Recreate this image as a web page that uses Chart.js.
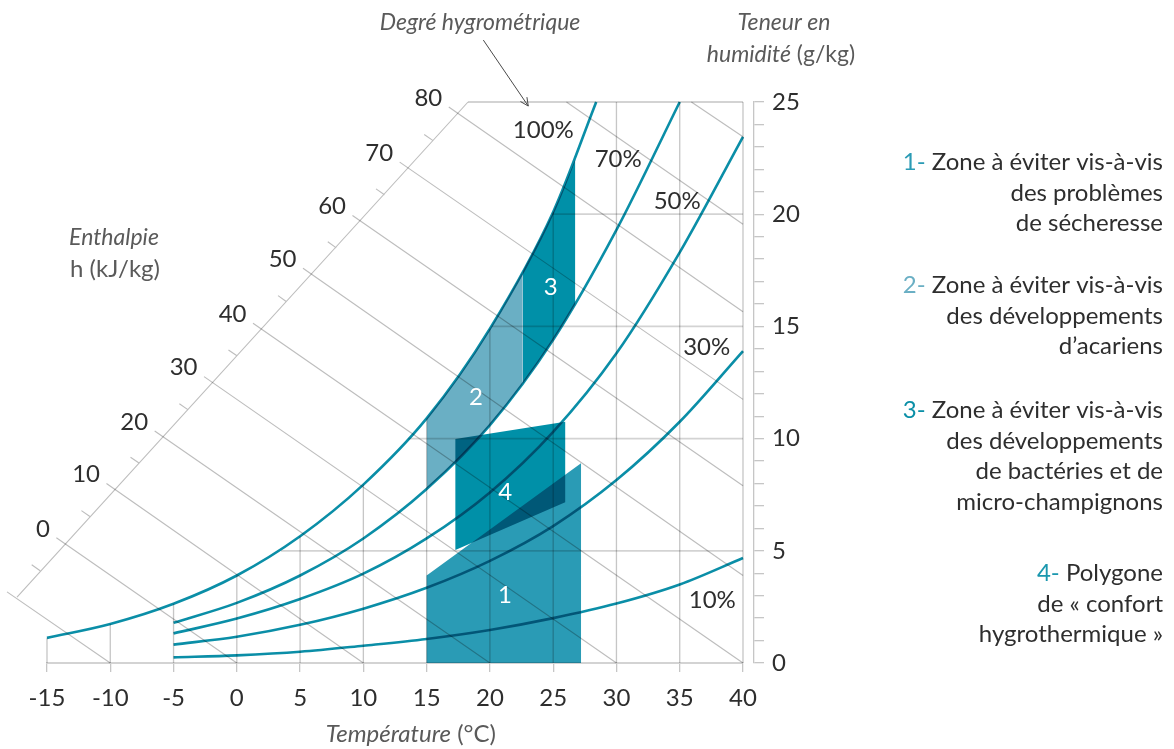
<!DOCTYPE html>
<html lang="fr">
<head>
<meta charset="utf-8">
<title>Diagramme de l'air humide</title>
<script src="https://cdn.jsdelivr.net/npm/chart.js@4/dist/chart.umd.min.js"></script>
<style>
  html, body { margin: 0; padding: 0; background: #ffffff; }
  canvas { display: block; }
</style>
</head>
<body>
<canvas id="chart" width="1174" height="749"></canvas>
<script>
// ---- Temperature axis (°C) and moisture-content axis (g/kg) ----
const tempTicks = [-15, -10, -5, 0, 5, 10, 15, 20, 25, 30, 35, 40];
const moistureLabels = [0, 5, 10, 15, 20, 25];

// ---- Relative humidity curves: moisture content (g/kg) against temperature ----
const rh100T = [-15, -10, -5, 0, 5, 10, 15, 20, 25, 28.4];
const rh100W = [1.12, 1.74, 2.64, 3.9, 5.65, 7.95, 10.9, 14.9, 20.1, 25];
const rh70T = [-5, 0, 5, 10, 15, 20, 25, 30, 35];
const rh70W = [1.79, 2.68, 3.9, 5.55, 7.75, 10.6, 14.4, 19.3, 25];
const rhT = [-5, 0, 5, 10, 15, 20, 25, 30, 35, 40];
const rh50W = [1.32, 1.98, 2.85, 3.98, 5.55, 7.6, 10.3, 13.8, 18.3, 23.45];
const rh30W = [0.82, 1.17, 1.7, 2.42, 3.35, 4.55, 6.1, 8.15, 10.75, 13.9];
const rh10W = [0.25, 0.34, 0.5, 0.77, 1.07, 1.47, 2.0, 2.65, 3.5, 4.68];

const rhLabels = ['100%', '70%', '50%', '30%', '10%'];
const rhLabelT = [24.22, 30.14, 34.8, 37.13, 37.57];
const rhLabelW = [23.72, 22.45, 20.56, 14.09, 2.78];

// ---- Grid: vertical lines stop on the saturation curve, horizontal ones start there ----
const gridTopW = [1.12, 1.74, 2.64, 3.9, 5.65, 7.95, 10.9, 14.9, 20.1, 25, 25, 25];
const gridW = [5, 10, 15, 20];
const gridStartT = [3.5, 13.55, 20.15, 24.95];

// ---- Enthalpy lines (kJ/kg) ----
const enthalpyValues = [-10, 0, 10, 20, 30, 40, 50, 60, 70, 80, 90, 100];
const enthalpyStartT = [-18.16, -14.26, -10.3, -6.49, -2.59, 1.28, 5.23, 9.14, 12.87, 16.75, 26.05, 35.92];
const enthalpyStartW = [3.17, 5.58, 8.0, 10.34, 12.76, 15.14, 17.59, 19.94, 22.32, 24.78, 25, 25];
const enthalpyEndT = [-10, 0, 10, 20, 30, 40, 40, 40, 40, 40, 40, 40];
const enthalpyEndW = [0, 0, 0, 0, 0, 0, 3.9, 7.9, 11.75, 15.65, 19.55, 23.45];
const enthalpyLabels = ['', '0', '10', '20', '30', '40', '50', '60', '70', '80', '', ''];
// enthalpy scale: oblique baseline and minor ticks (h = -5, 5 ... 75)
const hAxisT = [-17.37, 18.27];
const hAxisW = [2.94, 25];
const hTickOuterT = [-16.21, -12.28, -8.4, -4.54, -0.66, 3.26, 7.19, 11.0, 14.81];
const hTickOuterW = [4.38, 6.79, 9.17, 11.55, 13.95, 16.37, 18.77, 21.13, 23.55];
const hTickInnerT = [-15.54, -11.61, -7.73, -3.87, 0.01, 3.93, 7.86, 11.67, 15.48];
const hTickInnerW = [4.11, 6.53, 8.91, 11.29, 13.69, 16.1, 18.5, 20.87, 23.29];

// ---- Zones ----
const zone1T = [15, 15, 27.2, 27.2];
const zone1W = [0, 3.9, 8.9, 0];
const zone2EdgeT = [15, 17.5, 20, 22.6];
const zone2EdgeW = [10.9, 12.75, 14.9, 17.45];
const zone3EdgeT = [22.6, 25, 26.75];
const zone3EdgeW = [17.45, 20.1, 22.45];
const zone4T = [17.27, 25.95, 25.95, 17.27];
const zone4W = [9.98, 10.75, 7.16, 5.04];
const zoneNames = ['1', '2', '3', '4'];
const zoneLabelT = [21.19, 18.9, 24.8, 21.21];
const zoneLabelW = [3.03, 11.85, 16.74, 7.59];

// ---- Key ----
const legendItems = [
  { num: '1-', color: '#2b9bb5', lines: ['Zone à éviter vis-à-vis', 'des problèmes', 'de sécheresse'] },
  { num: '2-', color: '#6aafc4', lines: ['Zone à éviter vis-à-vis', 'des développements', 'd’acariens'] },
  { num: '3-', color: '#0a8fa7', lines: ['Zone à éviter vis-à-vis', 'des développements', 'de bactéries et de', 'micro-champignons'] },
  { num: '4-', color: '#1a97ae', lines: ['Polygone', 'de « confort', 'hygrothermique »'] }
];
const legendTop = [170, 293, 418, 581];

// ---- Colours & fonts ----
const FONT = 'Lato, "Open Sans", sans-serif';
const CURVE = '#0a8ea7';
const TEXT = '#2e2e2e';
const TITLE = '#5a5a5a';

// helpers to turn value arrays into point lists
const pts = (ts, ws) => ts.map((t, i) => ({ x: t, y: ws[i] }));
const segments = (list) => list.flatMap(([x1, y1, x2, y2]) => [{ x: x1, y: y1 }, { x: x2, y: y2 }, { x: x2, y: null }]);

const verticalGrid = segments(tempTicks.map((t, i) => [t, 0, t, gridTopW[i]]));
const horizontalGrid = segments(gridW.map((w, i) => [gridStartT[i], w, 40, w]).concat([[hAxisT[1], 25, 40, 25]]));
const enthalpyLines = segments(enthalpyValues.map((h, i) => [enthalpyStartT[i], enthalpyStartW[i], enthalpyEndT[i], enthalpyEndW[i]]));
const enthalpyAxis = segments([[hAxisT[0], hAxisW[0], hAxisT[1], hAxisW[1]]].concat(
  hTickOuterT.map((t, i) => [t, hTickOuterW[i], hTickInnerT[i], hTickInnerW[i]])));

const curve = (label, data) => ({
  label, data, xAxisID: 'x', yAxisID: 'y', borderColor: CURVE, borderWidth: 2.6, pointRadius: 0,
  cubicInterpolationMode: 'monotone', fill: false, clip: false
});
const grey = (label, data, color, width) => ({
  label, data, xAxisID: 'x', yAxisID: 'y', borderColor: color, borderWidth: width, pointRadius: 0,
  tension: 0, fill: false, spanGaps: false, clip: false
});
const zone = (label, data, color, fill, smooth) => ({
  label, data, xAxisID: 'x', yAxisID: 'y', backgroundColor: color, borderColor: 'rgba(0,0,0,0)', borderWidth: 0,
  pointRadius: 0, fill, tension: 0, cubicInterpolationMode: smooth ? 'monotone' : 'default'
});

const datasets = [
  curve('HR 100 %', pts(rh100T, rh100W)),
  curve('HR 70 %', pts(rh70T, rh70W)),
  curve('HR 50 %', pts(rhT, rh50W)),
  curve('HR 30 %', pts(rhT, rh30W)),
  curve('HR 10 %', pts(rhT, rh10W)),
  grey('grille verticale', verticalGrid, '#c6c6c6', 1.3),
  grey('grille horizontale', horizontalGrid, '#d3d3d3', 1.8),
  grey('enthalpie', enthalpyLines, '#bdbdbd', 1.1),
  grey('échelle enthalpie', enthalpyAxis, '#bdbdbd', 1.1),
  zone('zone 1', pts(zone1T, zone1W), '#2a9bb5', 'shape', false),
  zone('zone 2', pts(zone2EdgeT, zone2EdgeW), '#6aafc4', 1, true),
  zone('zone 3', pts(zone3EdgeT, zone3EdgeW), '#0090a8', 1, true),
  zone('zone 4', pts(zone4T, zone4W), '#0090a8', 'shape', false)
];

// white page under the plot
const background = {
  id: 'background',
  beforeDraw(chart) {
    const c = chart.ctx;
    c.save();
    c.fillStyle = '#ffffff';
    c.fillRect(0, 0, chart.width, chart.height);
    c.restore();
  }
};

// zones and lines are laid down like printing inks: overlaps darken
const inks = {
  id: 'inks',
  beforeDatasetsDraw(chart) { chart.ctx.save(); chart.ctx.globalCompositeOperation = 'multiply'; },
  afterDatasetsDraw(chart) { chart.ctx.restore(); }
};

function drawParts(c, parts, x, y, align) {
  let total = 0;
  parts.forEach(p => { c.font = p.font; p.w = c.measureText(p.text).width; total += p.w; });
  let cx = align === 'right' ? x - total : (align === 'center' ? x - total / 2 : x);
  c.textAlign = 'left';
  parts.forEach(p => { c.font = p.font; c.fillStyle = p.color; c.fillText(p.text, cx, y); cx += p.w; });
}

const annotations = {
  id: 'annotations',
  afterDraw(chart) {
    const c = chart.ctx;
    const xs = chart.scales.x, ys = chart.scales.y;
    const px = t => xs.getPixelForValue(t);
    const py = w => ys.getPixelForValue(w);
    c.save();

    // enthalpy scale numbers
    c.font = `24px ${FONT}`;
    c.fillStyle = TEXT;
    c.textAlign = 'right';
    c.textBaseline = 'middle';
    enthalpyLabels.forEach((lab, i) => {
      if (!lab) return;
      c.fillText(lab, px(enthalpyStartT[i]) - 6.5, py(enthalpyStartW[i]) - 9);
    });

    // relative humidity labels
    c.textAlign = 'center';
    rhLabels.forEach((lab, i) => c.fillText(lab, px(rhLabelT[i]), py(rhLabelW[i])));

    // zone numbers
    c.fillStyle = '#ffffff';
    zoneNames.forEach((lab, i) => c.fillText(lab, px(zoneLabelT[i]), py(zoneLabelW[i])));

    // axis titles
    c.textBaseline = 'alphabetic';
    const it = `italic 23px ${FONT}`, up = `23px ${FONT}`;
    drawParts(c, [{ text: 'Degré hygrométrique', font: it, color: TITLE }], 480, 30, 'center');
    drawParts(c, [{ text: 'Teneur en', font: it, color: TITLE }], 784, 30, 'center');
    drawParts(c, [{ text: 'humidité', font: it, color: TITLE }, { text: ' (g/kg)', font: up, color: TITLE }], 781, 62, 'center');
    drawParts(c, [{ text: 'Enthalpie', font: it, color: TITLE }], 114, 245, 'center');
    drawParts(c, [{ text: 'h (kJ/kg)', font: `24px ${FONT}`, color: TITLE }], 115, 277, 'center');
    drawParts(c, [{ text: 'Température', font: `italic 24px ${FONT}`, color: TITLE },
                  { text: ' (°C)', font: `24px ${FONT}`, color: TITLE }], 496, 742, 'right');

    // arrow from the humidity title to the saturation curve
    const ax0 = px(19.48), ay0 = py(27.76), ax1 = px(23.03), ay1 = py(24.82);
    c.strokeStyle = '#4a4a4a';
    c.lineWidth = 1;
    c.beginPath();
    c.moveTo(ax0, ay0); c.lineTo(ax1, ay1);
    const ang = Math.atan2(ay1 - ay0, ax1 - ax0);
    [0.45, -0.45].forEach(d => {
      c.moveTo(ax1, ay1);
      c.lineTo(ax1 - 9 * Math.cos(ang + d), ay1 - 9 * Math.sin(ang + d));
    });
    c.stroke();

    // key
    const kf = `24px ${FONT}`;
    legendItems.forEach((item, k) => {
      item.lines.forEach((line, j) => {
        const parts = j === 0
          ? [{ text: item.num + ' ', font: kf, color: item.color }, { text: line, font: kf, color: TEXT }]
          : [{ text: line, font: kf, color: TEXT }];
        drawParts(c, parts, 1163, legendTop[k] + j * 30.5, 'right');
      });
    });
    c.restore();
  }
};

new Chart(document.getElementById('chart'), {
  type: 'line',
  data: { datasets },
  options: {
    responsive: false,
    animation: false,
    devicePixelRatio: 1,
    events: [],
    layout: { padding: { left: 47, top: 102, right: 360, bottom: 0 } },
    plugins: { legend: { display: false }, tooltip: { enabled: false }, title: { display: false } },
    elements: { point: { radius: 0 } },
    scales: {
      x: {
        type: 'linear', position: 'bottom', min: -15, max: 40,
        afterBuildTicks: s => { s.ticks = tempTicks.map(v => ({ value: v })); },
        ticks: { color: TEXT, font: { family: FONT, size: 24 }, padding: 12, maxRotation: 0, autoSkip: false,
                 callback: v => String(v) },
        grid: { drawOnChartArea: false, drawTicks: true, tickLength: 9, color: '#c6c6c6', lineWidth: 1.3 },
        border: { display: true, color: '#d3d3d3', width: 2 },
        afterFit: s => { s.height = 86; }
      },
      y: {
        type: 'linear', position: 'right', weight: 1, min: 0, max: 25,
        ticks: { stepSize: 1, autoSkip: false, color: TEXT, font: { family: FONT, size: 24 }, padding: 8,
                 callback: v => moistureLabels.includes(v) ? String(v) : '' },
        grid: { drawOnChartArea: false, drawTicks: true, tickLength: 10, color: '#c6c6c6', lineWidth: 1.3 },
        border: { display: true, color: '#c6c6c6', width: 1.3 },
        afterFit: s => { s.width = 60; }
      },
      gap: {
        type: 'linear', position: 'right', weight: 0, min: 0, max: 1,
        grid: { display: false }, ticks: { display: false }, border: { display: false },
        afterFit: s => { s.width = 11; }
      }
    }
  },
  plugins: [background, inks, annotations]
});
</script>
</body>
</html>
